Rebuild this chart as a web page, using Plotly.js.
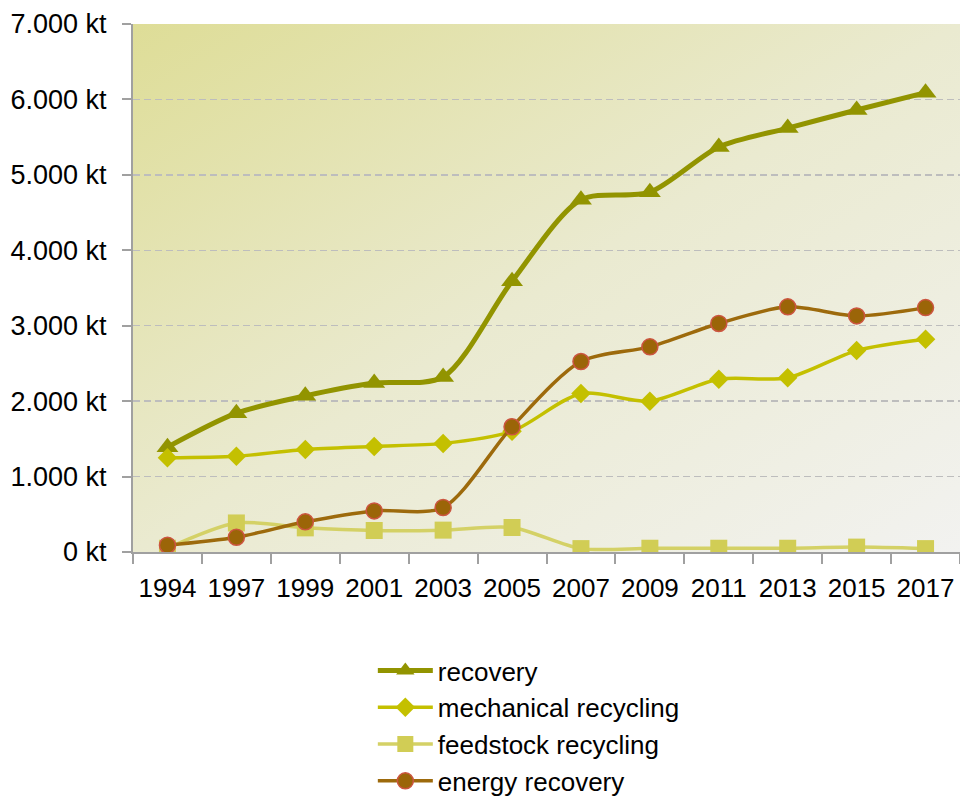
<!DOCTYPE html>
<html>
<head>
<meta charset="utf-8">
<script src="https://cdn.plot.ly/plotly-3.0.1.min.js"></script>
<style>
html,body{margin:0;padding:0;background:#fff;}
#chart{width:960px;height:803px;}
</style>
</head>
<body>
<div id="chart"></div>
<script>
const years = ["1994","1997","1999","2001","2003","2005","2007","2009","2011","2013","2015","2017"];
const recovery = [1390,1840,2070,2240,2320,3590,4670,4770,5370,5620,5860,6090];
const mechanicalRecycling = [1250,1270,1360,1400,1440,1600,2100,2000,2290,2310,2670,2820];
const feedstockRecycling = [50,385,320,285,290,325,45,50,50,50,65,45];
const energyRecovery = [90,195,400,545,590,1660,2525,2720,3030,3250,3130,3240];
const yTickValues = [0,1000,2000,3000,4000,5000,6000,7000];
const yTickLabels = ["0 kt","1.000 kt","2.000 kt","3.000 kt","4.000 kt","5.000 kt","6.000 kt","7.000 kt"];
const seriesNames = ["recovery","mechanical recycling","feedstock recycling","energy recovery"];

const FONT = '"Liberation Sans",Arial,sans-serif';

const gradSvg = '<svg xmlns="http://www.w3.org/2000/svg" width="100" height="100" preserveAspectRatio="none">' +
  '<defs><linearGradient id="g" x1="0" y1="0" x2="1" y2="1">' +
  '<stop offset="0" stop-color="#dedd97"/><stop offset="0.5" stop-color="#eaead0"/><stop offset="1" stop-color="#f2f2f0"/>' +
  '</linearGradient></defs><rect width="100" height="100" fill="url(#g)"/></svg>';
const gradUri = 'data:image/svg+xml;base64,' + btoa(gradSvg);

const traces = [
  {x: years, y: recovery, name: seriesNames[0], type: 'scatter', mode: 'lines+markers',
   line: {color: '#929400', width: 5, shape: 'spline', smoothing: 0.8},
   marker: {symbol: 'triangle-up', size: 19, color: '#929400'}},
  {x: years, y: mechanicalRecycling, name: seriesNames[1], type: 'scatter', mode: 'lines+markers',
   line: {color: '#c4c000', width: 3.5, shape: 'spline', smoothing: 0.8},
   marker: {symbol: 'diamond', size: 15, color: '#c4c000'}},
  {x: years, y: feedstockRecycling, name: seriesNames[2], type: 'scatter', mode: 'lines+markers',
   line: {color: '#d4d166', width: 3.5, shape: 'spline', smoothing: 0.8},
   marker: {symbol: 'square', size: 17, color: '#d1cd55'}},
  {x: years, y: energyRecovery, name: seriesNames[3], type: 'scatter', mode: 'lines+markers',
   line: {color: '#9d6a0c', width: 3.5, shape: 'spline', smoothing: 0.8},
   marker: {symbol: 'circle', size: 16, color: '#9b6508', line: {color: '#cc5540', width: 1.5}}}
];

const layout = {
  width: 960, height: 803,
  margin: {l: 133, r: 0, t: 24, b: 251, pad: 0, autoexpand: false},
  paper_bgcolor: '#ffffff',
  plot_bgcolor: 'rgba(0,0,0,0)',
  font: {family: FONT, size: 26, color: '#000'},
  showlegend: true,
  hovermode: false,
  images: [{source: gradUri, xref: 'paper', yref: 'paper', x: 0, y: 1, sizex: 1, sizey: 1,
            sizing: 'stretch', layer: 'below', xanchor: 'left', yanchor: 'top'}],
  xaxis: {
    type: 'category', range: [-0.5, 11.5], fixedrange: true,
    showline: true, linecolor: '#a0a0a0', linewidth: 2,
    ticks: 'outside', tickson: 'boundaries', ticklen: 10, tickcolor: '#a0a0a0', tickwidth: 2,
    tickangle: 0, ticklabelstandoff: 12,
    showgrid: false, tickfont: {family: FONT, size: 26, color: '#000'}
  },
  yaxis: {
    range: [0, 7000], fixedrange: true,
    tickvals: yTickValues, ticktext: yTickLabels,
    showline: true, linecolor: '#a0a0a0', linewidth: 2,
    ticks: 'outside', ticklen: 9, tickcolor: '#a0a0a0', tickwidth: 2,
    showgrid: true, gridcolor: '#bdbdbd', gridwidth: 1.5, griddash: '7px,4px',
    zeroline: false, ticklabelstandoff: 10,
    tickfont: {family: FONT, size: 27, color: '#000'}
  },
  legend: {
    x: 0.29, y: -0.18, xanchor: 'left', yanchor: 'top',
    bgcolor: 'rgba(0,0,0,0)', borderwidth: 0, itemwidth: 55,
    font: {family: FONT, size: 26, color: '#000'},
    traceorder: 'normal'
  }
};

Plotly.newPlot('chart', traces, layout, {displayModeBar: false, staticPlot: true});
</script>
</body>
</html>
